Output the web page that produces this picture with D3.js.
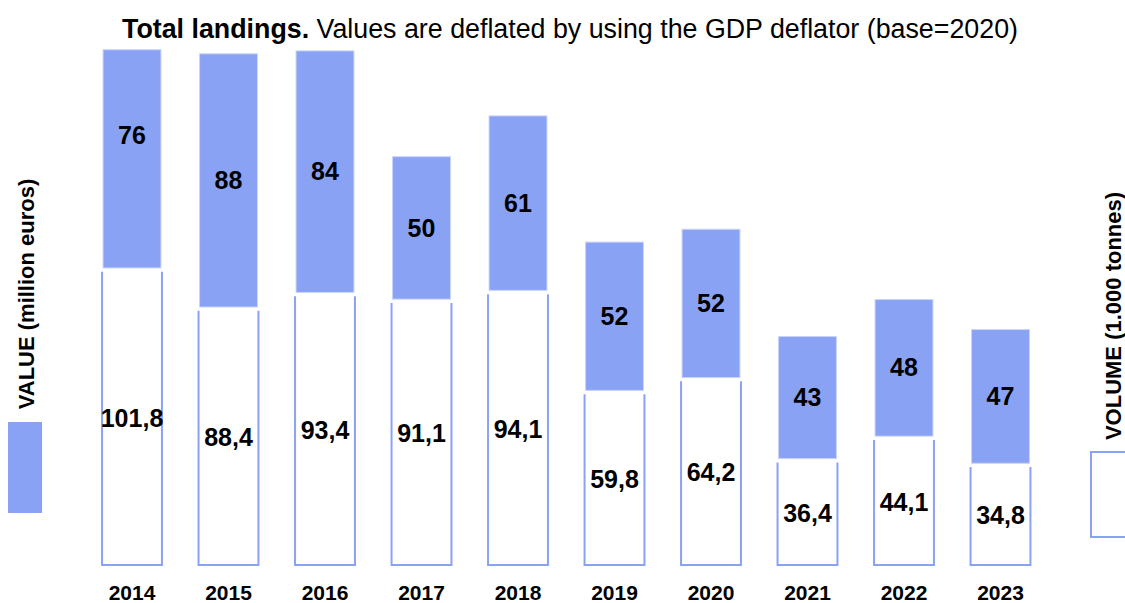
<!DOCTYPE html>
<html>
<head>
<meta charset="utf-8">
<script src="https://cdn.jsdelivr.net/npm/d3@7"></script>
<style>
	body { margin: 0; background: #fff; }
	svg { display: block; font-family: "Liberation Sans", Arial, sans-serif; }
	.lbl { font-weight: bold; fill: #000; }
</style>
</head>
<body>
<div id="chart"></div>
<script>
	"use strict";

	// data
	var years = ["2014", "2015", "2016", "2017", "2018", "2019", "2020", "2021", "2022", "2023"];
	var volume = [101.8, 88.4, 93.4, 91.1, 94.1, 59.8, 64.2, 36.4, 44.1, 34.8];   // 1.000 tonnes
	var value = [76, 88, 84, 50, 61, 52, 52, 43, 48, 47];                          // million euros

	var width = 1125, height = 603;
	var blue = "#8aa2f4";

	var svg = d3.select("#chart")
		.append("svg")
		.attr("width", width)
		.attr("height", height);

	var x = d3.scaleBand()
		.domain(years)
		.range([83.75, 1048.75])
		.paddingInner(0.4)
		.paddingOuter(0.2);

	var y = d3.scaleLinear()
		.domain([0, 180])
		.range([566, 41.3]);

	var locale = d3.formatLocale({ decimal: ",", thousands: ".", grouping: [3], currency: ["", "€"] });
	var fmt1 = locale.format(".1f");

	var rows = years.map(function(yr, i) {
		return { year: yr, vol: volume[i], val: value[i] };
	});

	// title
	var title = svg.append("text")
		.attr("x", 570)
		.attr("y", 38)
		.attr("text-anchor", "middle")
		.style("font-size", "26.8px");
	title.append("tspan").attr("font-weight", "bold").text("Total landings.");
	title.append("tspan").text(" Values are deflated by using the GDP deflator (base=2020)");

	// volume boxes (open at the top)
	svg.selectAll("path.vol")
		.data(rows)
		.enter()
		.append("path")
		.attr("class", "vol")
		.attr("fill", "#fff")
		.attr("stroke", blue)
		.attr("stroke-width", 2)
		.attr("d", function(d) {
			var x0 = x(d.year) - 1, x1 = x(d.year) + x.bandwidth() + 1;
			var top = y(d.vol) + 2.5, bot = y(0) - 1;
			return "M" + x0 + "," + top + "V" + bot + "H" + x1 + "V" + top;
		});

	// value boxes stacked on top
	svg.selectAll("rect.val")
		.data(rows)
		.enter()
		.append("rect")
		.attr("class", "val")
		.attr("x", function(d) { return x(d.year); })
		.attr("width", x.bandwidth())
		.attr("y", function(d) { return y(d.vol + d.val) + 2; })
		.attr("height", function(d) { return (y(d.vol) - 1.3) - (y(d.vol + d.val) + 2); })
		.attr("fill", blue)
		.attr("stroke", "#c9d4fa")
		.attr("stroke-width", 1);

	// labels
	svg.selectAll("text.vallbl")
		.data(rows)
		.enter()
		.append("text")
		.attr("class", "lbl vallbl")
		.attr("x", function(d) { return x(d.year) + x.bandwidth() / 2; })
		.attr("y", function(d) {
			var c = (y(d.vol) + y(d.vol + d.val)) / 2;
			return d.year === "2014" ? c - 23 : c;   // first label sits high in the original
		})
		.attr("dy", "0.36em")
		.attr("text-anchor", "middle")
		.style("font-size", "25px")
		.text(function(d) { return d.val; });

	svg.selectAll("text.vollbl")
		.data(rows)
		.enter()
		.append("text")
		.attr("class", "lbl vollbl")
		.attr("x", function(d) { return x(d.year) + x.bandwidth() / 2; })
		.attr("y", function(d) { return (y(d.vol) + y(0)) / 2; })
		.attr("dy", "0.36em")
		.attr("text-anchor", "middle")
		.style("font-size", "25px")
		.text(function(d) { return fmt1(d.vol); });

	// x axis years
	svg.append("g")
		.attr("transform", "translate(0,600)")
		.call(d3.axisBottom(x).tickSize(0).tickPadding(0))
		.call(function(g) {
			g.select(".domain").remove();
			g.selectAll("text")
				.attr("y", 0)
				.attr("dy", 0)
				.attr("fill", "#000")
				.style("font-family", "Liberation Sans, Arial, sans-serif")
				.style("font-size", "21px")
				.style("font-weight", "bold");
		});

	// side legends
	svg.append("text")
		.attr("class", "lbl")
		.attr("transform", "translate(34,294) rotate(-90)")
		.attr("text-anchor", "middle")
		.style("font-size", "22px")
		.text("VALUE (million euros)");

	svg.append("rect")
		.attr("x", 8)
		.attr("y", 422)
		.attr("width", 34)
		.attr("height", 91)
		.attr("fill", blue);

	svg.append("text")
		.attr("class", "lbl")
		.attr("transform", "translate(1121,316) rotate(-90)")
		.attr("text-anchor", "middle")
		.style("font-size", "22px")
		.text("VOLUME (1.000 tonnes)");

	svg.append("rect")
		.attr("x", 1091)
		.attr("y", 452)
		.attr("width", 40)
		.attr("height", 85)
		.attr("fill", "#fff")
		.attr("stroke", blue)
		.attr("stroke-width", 2);
</script>
</body>
</html>
